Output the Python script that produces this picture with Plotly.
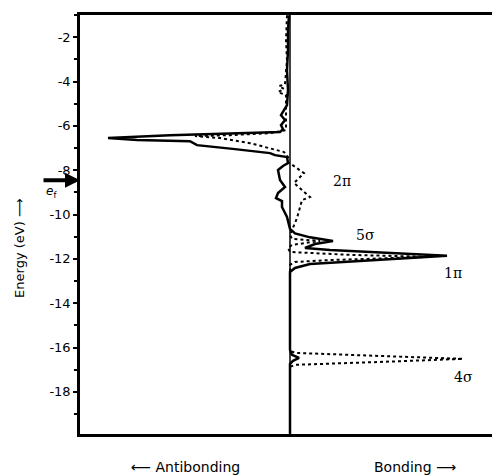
import plotly.graph_objects as go

# Solid curve (energy in eV, COOP in arbitrary units; negative = antibonding)
solid_energy = [-1.01, -1.68, -2.59, -3.49, -4.39, -5.06, -5.29, -5.52, -5.74, -5.97,
                -6.15, -6.28, -6.35, -6.42, -6.55, -6.60, -6.64, -6.69, -6.87, -7.05,
                -7.23, -7.32, -7.41, -7.68, -7.81, -7.99, -8.44, -8.76, -9.03, -9.26,
                -9.39, -9.66, -10.11, -10.47, -10.65, -10.85, -11.03, -11.19, -11.33, -11.51,
                -11.60, -11.86, -12.18, -12.23, -12.41, -12.59, -16.11, -16.33, -16.47, -16.60,
                -16.74, -19.89]
solid_coop = [-1, -2, -2, -3, -2, -3, -6, -9, -5, -9,
              -7, -10, -60, -120, -182, -170, -153, -100, -93, -55,
              -20, -15, -3, -2, -7, -12, -10, -5, -12, -14,
              -8, -8, -3, -1, 0, 5, 20, 43, 25, 15,
              40, 157, 40, 20, 5, 0, 0, 2, 9, 3,
              0, 0]

# Dotted curve
dot_energy = [-1.01, -2.14, -3.04, -4.12, -4.21, -4.34, -4.48, -4.61, -5.29, -6.19,
              -6.33, -6.42, -6.46, -6.55, -6.78, -7.00, -7.18, -7.41, -7.63, -8.13,
              -8.58, -9.21, -9.35, -10.16, -10.56, -10.92, -11.10, -11.19, -11.37, -11.51,
              -11.69, -11.82, -11.91, -12.00, -12.05, -12.14, -12.27, -16.15, -16.24, -16.38,
              -16.51, -16.65, -16.78, -16.87, -19.89]
dot_coop = [-3, -4, -3, -5, -11, -6, -12, -4, -4, -4,
            -20, -60, -95, -70, -40, -20, -6, -2, -2, 14,
            4, 20, 12, 7, 3, 0, 2, 30, 2, -2,
            0, 60, 140, 70, 42, 5, 0, 0, 5, 90,
            173, 90, 5, 0, 0]

y_tick_vals = [-2, -4, -6, -8, -10, -12, -14, -16, -18]
y_tick_text = ["-2", "-4", "-6", "-8", "-10", "-12", "-14", "-16", "-18"]

fermi_energy = -8.45

peak_labels = ["2π", "5σ", "1π", "4σ"]
peak_label_x = [52, 75, 163, 173]
peak_label_y = [-8.49, -10.92, -12.64, -17.32]

fig = go.Figure()
fig.add_trace(go.Scatter(x=dot_coop, y=dot_energy, mode="lines",
                         line=dict(color="black", width=2, dash="dot"),
                         hoverinfo="skip", showlegend=False))
fig.add_trace(go.Scatter(x=solid_coop, y=solid_energy, mode="lines",
                         line=dict(color="black", width=2.5),
                         hoverinfo="skip", showlegend=False))

# zero line
fig.add_shape(type="line", xref="x", yref="paper", x0=0, x1=0, y0=0, y1=1,
              line=dict(color="black", width=1.5))

font = dict(family="DejaVu Sans", size=13, color="black")

for t, x, y in zip(peak_labels, peak_label_x, peak_label_y):
    fig.add_annotation(x=x, y=y, text=t, showarrow=False, xanchor="center", yanchor="middle",
                       font=dict(family="DejaVu Serif", size=14, color="black"))

# Fermi level arrow
fig.add_annotation(xref="paper", x=0, y=fermi_energy, text="", showarrow=True,
                   arrowhead=2, arrowsize=0.75, arrowwidth=4, arrowcolor="black",
                   ax=-38, ay=0, standoff=0)
fig.add_annotation(xref="paper", x=-0.067, y=-8.98, text="<i>e</i><sub>f</sub>",
                   showarrow=False, xanchor="center", yanchor="middle",
                   font=dict(family="DejaVu Sans", size=12, color="black"))

# axis title
fig.add_annotation(xref="paper", yref="paper", x=-0.143, y=0.444, text="Energy (eV) ⟶",
                   textangle=-90, showarrow=False, xanchor="center", yanchor="middle",
                   font=dict(family="DejaVu Sans", size=13, color="black"))

# bottom labels
fig.add_annotation(xref="paper", yref="paper", x=0.252, y=-0.079, text="⟵ Antibonding",
                   showarrow=False, xanchor="center", yanchor="middle",
                   font=dict(family="DejaVu Sans", size=14, color="black"))
fig.add_annotation(xref="paper", yref="paper", x=0.798, y=-0.079, text="Bonding ⟶",
                   showarrow=False, xanchor="center", yanchor="middle",
                   font=dict(family="DejaVu Sans", size=14, color="black"))

fig.update_layout(
    width=492, height=467,
    margin=dict(l=72, r=0, t=7, b=41),
    paper_bgcolor="white", plot_bgcolor="white",
    xaxis=dict(range=[-210, 210], showgrid=False, zeroline=False, showticklabels=False,
               showline=True, mirror=True, linecolor="black", linewidth=2.5, ticks=""),
    yaxis=dict(range=[-19.9, -1.0], showgrid=False, zeroline=False,
               tickvals=y_tick_vals, ticktext=y_tick_text,
               ticks="outside", ticklen=4, tickwidth=1.5, tickcolor="black",
               minor=dict(dtick=1, ticks="outside", ticklen=3, tickcolor="black"),
               showline=True, linecolor="black", linewidth=2.5,
               tickfont=font),
)

fig.write_html("out.html")
